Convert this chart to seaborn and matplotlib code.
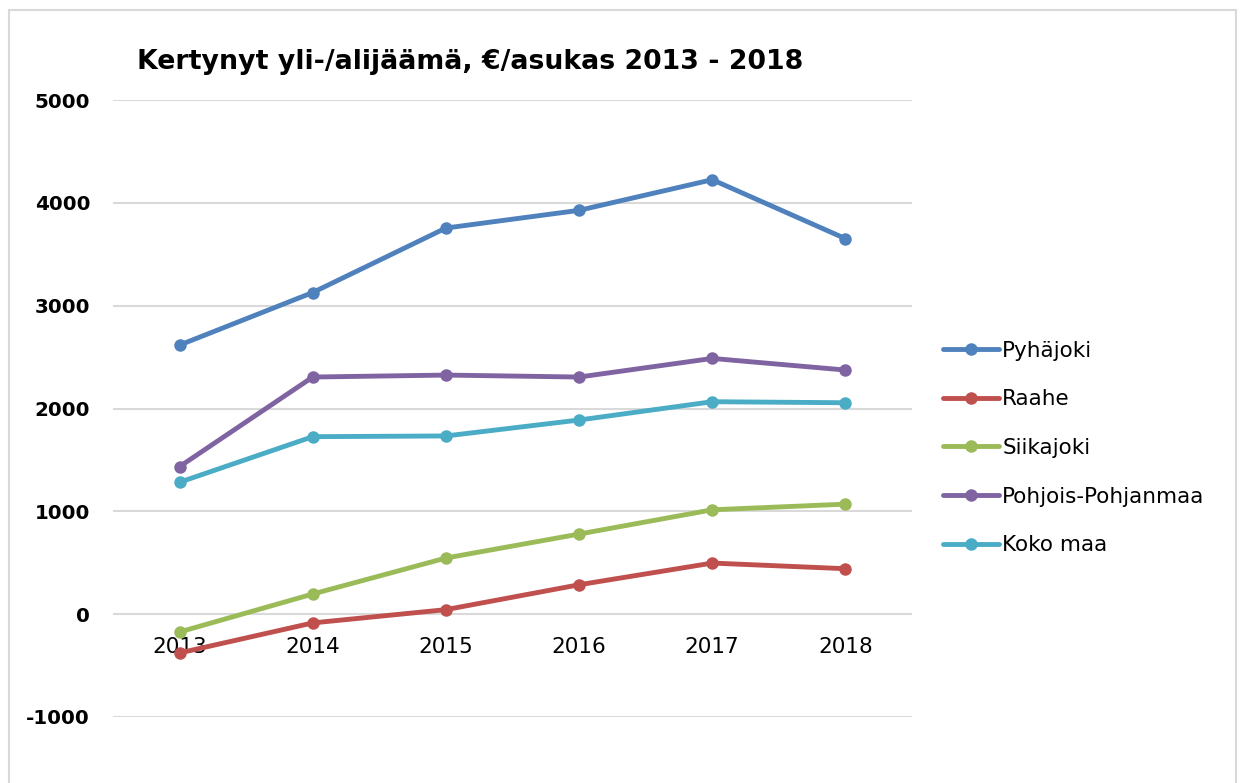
import numpy as np
import pandas as pd
import matplotlib
matplotlib.use("Agg")
import matplotlib.pyplot as plt
import matplotlib.patches as mpatches
import seaborn as sns

# data
years = [2013, 2014, 2015, 2016, 2017, 2018]
pyhajoki = [2617, 3128, 3755, 3927, 4225, 3652]
raahe = [-377, -85, 44, 286, 497, 442]
siikajoki = [-173, 196, 546, 779, 1015, 1070]
pohjois_pohjanmaa = [1435, 2306, 2325, 2306, 2487, 2374]
koko_maa = [1283, 1726, 1733, 1888, 2066, 2056]

series_names = ["Pyhäjoki", "Raahe", "Siikajoki", "Pohjois-Pohjanmaa", "Koko maa"]
colors = ["#4F81BD", "#C0504D", "#9BBB59", "#8064A2", "#4BACC6"]
y_ticks = [-1000, 0, 1000, 2000, 3000, 4000, 5000]

df = pd.DataFrame({
    "year": years * 5,
    "value": pyhajoki + raahe + siikajoki + pohjois_pohjanmaa + koko_maa,
    "series": sum([[n] * len(years) for n in series_names], []),
})

sns.set_style("white")
plt.rcParams["font.family"] = ["DejaVu Sans"]
plt.rcParams["text.color"] = "black"
plt.rcParams["xtick.color"] = "black"
plt.rcParams["ytick.color"] = "black"

fig = plt.figure(figsize=(12.44, 7.83), dpi=100)
ax = fig.add_axes([113 / 1244, 1 - 717 / 783, 799 / 1244, 617 / 783])

sns.lineplot(data=df, x="year", y="value", hue="series", hue_order=series_names,
             palette=colors, marker="o", markersize=9, markeredgewidth=0,
             linewidth=3.5, ax=ax, legend=True, zorder=3)

# x axis sits on the zero line, like in Excel
for s in ["top", "right", "left", "bottom"]:
    ax.spines[s].set_visible(False)
ax.spines["bottom"].set_position(("data", 0))

ax.set_xlim(2012.5, 2018.5)
ax.set_ylim(-1000, 5000)
ax.set_yticks(y_ticks)
ax.set_yticklabels([str(v) for v in y_ticks], fontsize=14.3, fontweight="bold")
ax.set_xticks(years)
ax.set_xticklabels([str(y) for y in years], fontsize=15.5,
                   family=["Liberation Sans Narrow", "DejaVu Sans"])
ax.grid(axis="y", color="#D9D9D9", linewidth=1.5)
ax.set_axisbelow(True)
ax.tick_params(axis="x", length=0, pad=16.5)
ax.tick_params(axis="y", length=0, pad=16.5)
ax.set_xlabel("")
ax.set_ylabel("")

fig.text(470 / 1244, 1 - 62 / 783, "Kertynyt yli-/alijäämä, €/asukas 2013 - 2018",
         fontsize=19.3, fontweight="bold", ha="center", va="center")

handles, labels = ax.get_legend_handles_labels()
ax.get_legend().remove()
fig.legend(handles, labels, loc="center left", bbox_to_anchor=(943 / 1244, 1 - 448 / 783),
           frameon=False, fontsize=15.5, handlelength=2.6, handletextpad=0.15,
           labelspacing=1.33, borderpad=0, borderaxespad=0)

fig.patches.append(mpatches.Rectangle((9 / 1244, -0.05), 1227 / 1244, 1.05 - 10 / 783,
                                      transform=fig.transFigure, fill=False,
                                      edgecolor="#D9D9D9", linewidth=1.5))

fig.savefig("out.png", dpi=100)
